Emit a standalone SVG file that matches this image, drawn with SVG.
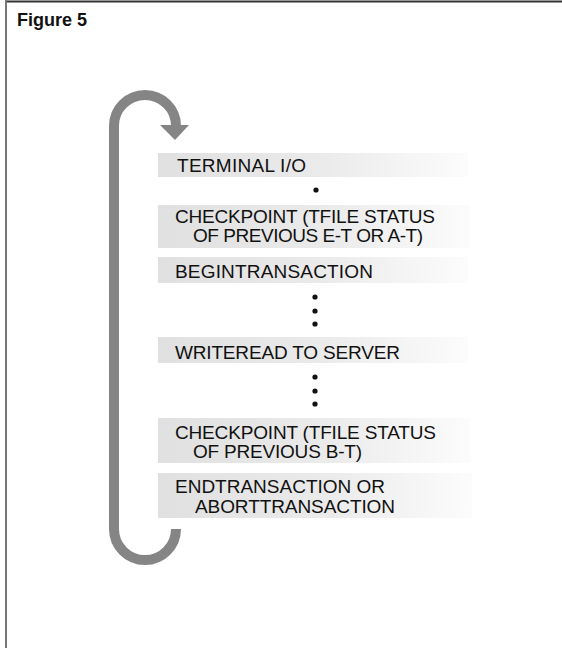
<svg xmlns="http://www.w3.org/2000/svg" width="562" height="648" viewBox="0 0 562 648">
  <style>
    .lbl { font-family: "Liberation Sans", Arial, sans-serif; font-size: 19px; fill: #111; }
    .title { font-family: "Liberation Sans", Arial, sans-serif; font-size: 18px; font-weight: bold; fill: #111; }
    .shade { fill: url(#shadeGrad); }
    .dot { fill: #111; }
    .band { fill: none; stroke: #858585; stroke-width: 10; }
  </style>
  <defs>
    <linearGradient id="shadeGrad" x1="0" y1="0" x2="1" y2="0">
      <stop offset="0" stop-color="#e0e0e0"/>
      <stop offset="0.55" stop-color="#ebebeb"/>
      <stop offset="1" stop-color="#fcfcfc"/>
    </linearGradient>
  </defs>
  <rect width="562" height="648" fill="#ffffff"/>
  <g id="frame">
    <line x1="6" y1="1.5" x2="562" y2="1.5" stroke="#333" stroke-width="2"/>
    <line x1="6" y1="0" x2="6" y2="648" stroke="#777" stroke-width="2"/>
  </g>
  <text class="title" x="17" y="26">Figure 5</text>

  <g id="connectors">
    <path class="band" d="M114,530 L114,126 A31,31 0 0 1 176,126 L176,127"/>
    <polygon points="160,125 189,125 175,140" fill="#858585"/>
    <path class="band" d="M114,529 A31,31 0 0 0 176,529"/>
  </g>

  <g id="node-terminal">
    <rect class="shade" x="158" y="153" width="310" height="24"/>
    <text class="lbl" x="177" y="172" textLength="129" lengthAdjust="spacing">TERMINAL I/O</text>
  </g>
  <g id="node-checkpoint1">
    <rect class="shade" x="158" y="205" width="312" height="43"/>
    <text class="lbl" x="175" y="223" textLength="260" lengthAdjust="spacing">CHECKPOINT (TFILE STATUS</text>
    <text class="lbl" x="193" y="242" textLength="230" lengthAdjust="spacing">OF PREVIOUS E-T OR A-T)</text>
  </g>
  <g id="node-begin">
    <rect class="shade" x="158" y="257" width="310" height="26"/>
    <text class="lbl" x="175" y="278" textLength="198" lengthAdjust="spacing">BEGINTRANSACTION</text>
  </g>
  <g id="node-writeread">
    <rect class="shade" x="158" y="337" width="310" height="26"/>
    <text class="lbl" x="175" y="359" textLength="225" lengthAdjust="spacing">WRITEREAD TO SERVER</text>
  </g>
  <g id="node-checkpoint2">
    <rect class="shade" x="158" y="418" width="312" height="45"/>
    <text class="lbl" x="175" y="439" textLength="261" lengthAdjust="spacing">CHECKPOINT (TFILE STATUS</text>
    <text class="lbl" x="193" y="458" textLength="169" lengthAdjust="spacing">OF PREVIOUS B-T)</text>
  </g>
  <g id="node-end">
    <rect class="shade" x="158" y="473" width="314" height="45"/>
    <text class="lbl" x="175" y="493" textLength="210" lengthAdjust="spacing">ENDTRANSACTION OR</text>
    <text class="lbl" x="195" y="513" textLength="200" lengthAdjust="spacing">ABORTTRANSACTION</text>
  </g>

  <g id="ellipses">
    <circle class="dot" cx="316" cy="190" r="2.6"/>
    <circle class="dot" cx="315" cy="297" r="2.6"/>
    <circle class="dot" cx="315" cy="311" r="2.6"/>
    <circle class="dot" cx="315" cy="324" r="2.6"/>
    <circle class="dot" cx="315" cy="377" r="2.6"/>
    <circle class="dot" cx="315" cy="391" r="2.6"/>
    <circle class="dot" cx="315" cy="404" r="2.6"/>
  </g>
</svg>
